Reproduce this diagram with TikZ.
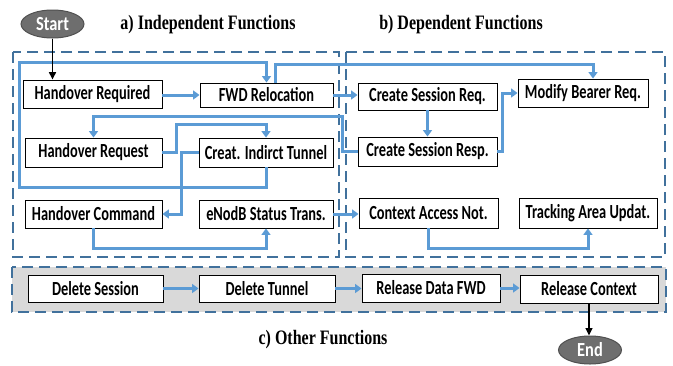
\documentclass[tikz,border=0pt]{standalone}
\usepackage{fontspec}
\setmainfont{Liberation Serif}
\newfontfamily\boxfont[FakeStretch=0.72]{Carlito}
\newfontfamily\ellfont[FakeStretch=0.82]{Carlito}
\newfontfamily\titlefont[FakeStretch=0.78]{Liberation Serif}
\usetikzlibrary{arrows.meta,shapes.geometric}
\definecolor{flowblue}{HTML}{5B9BD5}
\definecolor{dashblue}{HTML}{41719C}
\definecolor{regiongray}{HTML}{D9D9D9}
\definecolor{ellgray}{HTML}{6E6E6E}
\definecolor{ellline}{HTML}{505050}
\tikzset{
  fn/.style={draw=black, line width=0.9pt, fill=white, inner sep=0pt,
    font=\boxfont\bfseries\fontsize{20pt}{21pt}\selectfont},
  term/.style={ellipse, draw=ellline, line width=1pt, fill=ellgray, text=white, inner sep=0pt,
    minimum width=63pt, minimum height=28pt,
    font=\ellfont\bfseries\fontsize{20pt}{21pt}\selectfont},
  region/.style={draw=dashblue, line width=2.6pt, dash pattern=on 11pt off 6pt},
  flow/.style={draw=flowblue, line width=3pt, -{Triangle[width=9pt,length=6.5pt]}},
  blk/.style={draw=black, line width=1.6pt, -{Triangle[width=7pt,length=7.5pt]}},
  title/.style={font=\titlefont\bfseries\fontsize{20.5pt}{21pt}\selectfont}
}
\begin{document}
\begin{tikzpicture}[x=1pt,y=-1pt]
\useasboundingbox (0,0) rectangle (673,365);
% regions
\draw[region, fill=regiongray] (12,267) rectangle (666,312);
\draw[region] (13,52) rectangle (339,257);
\draw[region] (346,52) rectangle (665,257);
% titles
\node[title] (ta) at (208,25) {a) Independent Functions};
\node[title] (tb) at (461,25) {b) Dependent Functions};
\node[title] (tc) at (323,340) {c) Other Functions};
% terminals
\node[term] (start) at (52.5,24) {Start};
\node[term] (end) at (590,350) {End};
% function boxes
\node[fn, minimum width=139pt, minimum height=28pt] (hreq) at (92.5,94) {Handover Required};
\node[fn, minimum width=133pt, minimum height=24pt] (fwd) at (266.5,95) {FWD Relocation};
\node[fn, minimum width=139pt, minimum height=27pt] (csreq) at (427.5,96.5) {Create Session Req.};
\node[fn, minimum width=130pt, minimum height=28pt] (mbr) at (583,93) {Modify Bearer Req.};
\node[fn, minimum width=137pt, minimum height=29pt] (hrequest) at (93.5,152.5) {Handover Request};
\node[fn, minimum width=134pt, minimum height=29pt] (cit) at (266,152.5) {Creat. Indirct Tunnel};
\node[fn, minimum width=139pt, minimum height=29pt] (csresp) at (427.5,151.5) {Create Session Resp.};
\node[fn, minimum width=137pt, minimum height=28pt] (hcmd) at (93.5,214) {Handover Command};
\node[fn, minimum width=134pt, minimum height=28pt] (enb) at (266,214) {eNodB Status Trans.};
\node[fn, minimum width=139pt, minimum height=30pt] (can) at (428.5,213) {Context Access Not.};
\node[fn, minimum width=138pt, minimum height=30pt] (tau) at (588,213) {Tracking Area Updat.};
\node[fn, minimum width=135pt, minimum height=27pt] (ds) at (95.5,288.5) {Delete Session};
\node[fn, minimum width=136pt, minimum height=27pt] (dt) at (267,288.5) {Delete Tunnel};
\node[fn, minimum width=138pt, minimum height=28pt] (rdf) at (431,288) {Release Data FWD};
\node[fn, minimum width=138pt, minimum height=28pt] (rc) at (589,289) {Release Context};
% waypoints
\coordinate (loopb) at (19,187);
\coordinate (loopt) at (19,62);
\coordinate (fwdtop) at (593,64);
\coordinate (csback) at (342,116);
\coordinate (hrup) at (176,124);
\coordinate (citdown) at (181,214);
% blue connectors
\draw[flow] (hreq.east |- fwd.west) -- (fwd.west);
\draw[flow] (cit.south) |- (loopb) -- (loopt) -| (fwd.north);
\draw[flow] ([xshift=8.5pt]fwd.north) |- (fwdtop) -- ([xshift=10pt]mbr.north);
\draw[flow] (fwd.east) -- (fwd.east -| csreq.west);
\draw[flow] (csreq.south) -- (csresp.north);
\draw[flow] (csresp.east) -- ++(5,0) |- (mbr.west);
\draw[flow] (csresp.west) -| (csback) -| (hrequest.north);
\draw[flow] (hrequest.east) -| (hrup) -| (cit.north);
\draw[flow] (cit.west) -| (citdown) -- (hcmd.east);
\draw[flow] (hcmd.south) -- ++(0,20) -| (enb.south);
\draw[flow] (enb.east) -- (enb.east -| can.west);
\draw[flow] (can.south) -- ++(0,20) -| (tau.south);
\draw[flow] (ds.east) -- (ds.east -| dt.west);
\draw[flow] (dt.east) -- (dt.east -| rdf.west);
\draw[flow] (rdf.east) -- (rdf.east -| rc.west);
% black connectors
\draw[blk] (start.south) -- (start.south |- hreq.north);
\draw[blk] (rc.south) -- (rc.south |- end.north);
\end{tikzpicture}
\end{document}
